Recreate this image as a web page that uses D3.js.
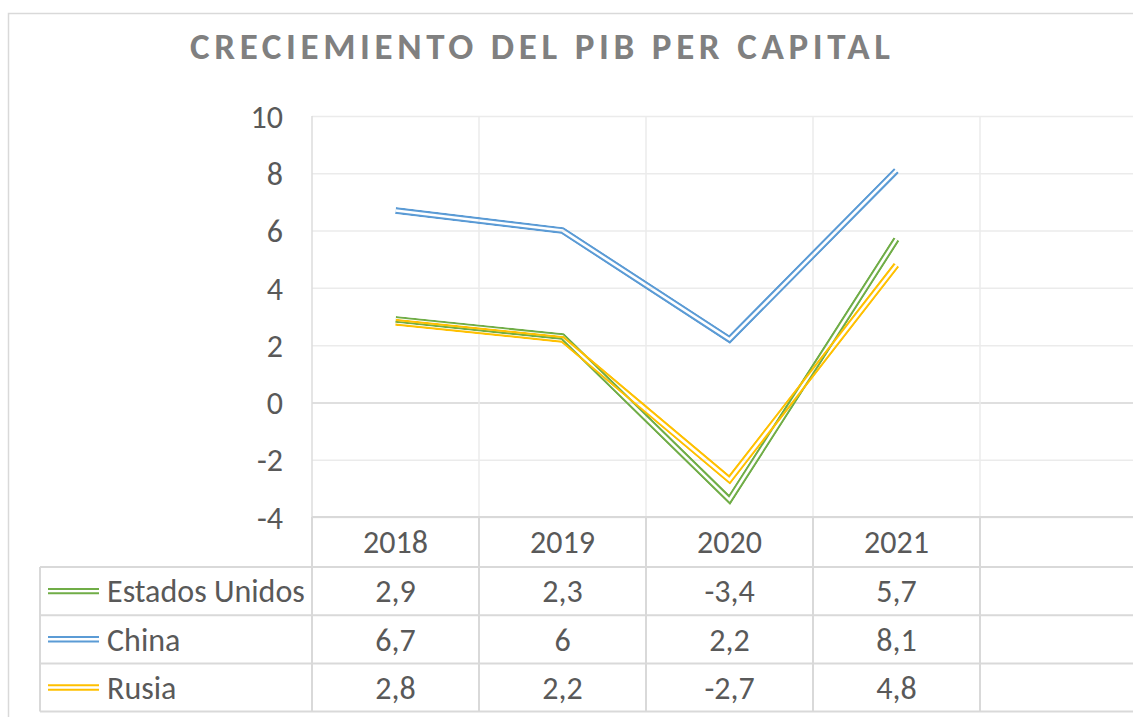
<!DOCTYPE html>
<html>

<head>
    <meta charset="utf-8">
    <style>
        body {
            margin: 0;
            background: #fff;
        }

        svg text {
            font-family: Carlito, Calibri, "Open Sans", sans-serif;
            fill: #595959;
        }

        .title {
            font-weight: bold;
            font-size: 37px;
            fill: #808080;
        }

        .tick text {
            font-size: 32px;
        }

        .cell {
            font-size: 32px;
            text-anchor: middle;
        }
    </style>
    <script src="https://d3js.org/d3.v7.min.js"></script>
    <title>Crecimiento del PIB per capital</title>
</head>

<body>
    <svg id="chart" width="1133" height="717"></svg>
    <script>
        // data
        var years = ["2018", "2019", "2020", "2021"];
        var seriesNames = ["Estados Unidos", "China", "Rusia"];
        var estadosUnidos = [2.9, 2.3, -3.4, 5.7];
        var china = [6.7, 6, 2.2, 8.1];
        var rusia = [2.8, 2.2, -2.7, 4.8];
        var yTicks = [-4, -2, 0, 2, 4, 6, 8, 10];
        var colors = ["#70AD47", "#5B9BD5", "#FFC000"];

        var seriesValues = [estadosUnidos, china, rusia];

        var svg = d3.select("svg#chart");

        // chart frame (cut off on the right and bottom)
        svg.append("path")
            .attr("d", "M8.5,717V13.5H1133")
            .attr("fill", "none")
            .attr("stroke", "#d9d9d9")
            .attr("stroke-width", 1.5);

        svg.append("text")
            .attr("class", "title")
            .attr("x", 190)
            .attr("y", 59)
            .attr("textLength", 700)
            .attr("lengthAdjust", "spacing")
            .text("CRECIEMIENTO DEL PIB PER CAPITAL");

        // scales - one empty category on the right like the original
        var x = d3.scaleBand()
            .domain(years.concat([""]))
            .range([312, 312 + 167 * 5])
            .padding(0);
        var y = d3.scaleLinear().domain([-4, 10]).range([517, 116]);

        var bw = x.bandwidth();

        // horizontal gridlines + labels
        var yAxis = svg.append("g")
            .attr("transform", "translate(312,0)")
            .call(d3.axisLeft(y)
                .tickValues(yTicks)
                .tickSize(-(1133 - 312))
                .tickPadding(29)
                .tickFormat(function (d) { return String(d); }));
        yAxis.select(".domain").remove();
        yAxis.selectAll(".tick line")
            .attr("stroke", function (d) { return d === 0 ? "#d4d4d4" : "#ebebeb"; })
            .attr("stroke-width", 1.5);
        yAxis.selectAll(".tick text")
            .attr("fill", "#595959")
            .attr("dy", "0.35em");

        // vertical gridlines at category boundaries
        var bounds = x.domain().map(function (d) { return x(d); });
        svg.append("g").selectAll("line")
            .data(bounds)
            .enter()
            .append("line")
            .attr("x1", function (d) { return d; })
            .attr("x2", function (d) { return d; })
            .attr("y1", y(10))
            .attr("y2", y(-4))
            .attr("stroke", function (d, i) { return i === 0 ? "#dcdcdc" : "#ebebeb"; })
            .attr("stroke-width", 1.5);

        // double lines: thick stroke with the middle cut out by a mask
        var line = d3.line()
            .x(function (d, i) { return x(years[i]) + bw / 2; })
            .y(function (d) { return y(d); });

        var defs = svg.append("defs");
        seriesValues.forEach(function (vals, k) {
            var m = defs.append("mask")
                .attr("id", "dbl" + k)
                .attr("maskUnits", "userSpaceOnUse")
                .attr("x", 0).attr("y", 0)
                .attr("width", 1133).attr("height", 717);
            m.append("path").attr("d", line(vals))
                .attr("fill", "none").attr("stroke", "#fff")
                .attr("stroke-width", 7);
            m.append("path").attr("d", line(vals))
                .attr("fill", "none").attr("stroke", "#000")
                .attr("stroke-width", 2.6);

            svg.append("path")
                .attr("d", line(vals))
                .attr("fill", "none")
                .attr("stroke", colors[k])
                .attr("stroke-width", 7)
                .attr("mask", "url(#dbl" + k + ")");
        });

        // data table
        var rowTop = 517, headH = 50, rowH = 48.2;
        var tbl = svg.append("g");
        var border = "#d9d9d9";

        // header row
        tbl.append("line")
            .attr("x1", 312).attr("x2", 1133)
            .attr("y1", rowTop).attr("y2", rowTop)
            .attr("stroke", border).attr("stroke-width", 2);
        tbl.selectAll(".head")
            .data(years)
            .enter()
            .append("text")
            .attr("class", "cell")
            .attr("x", function (d) { return x(d) + bw / 2; })
            .attr("y", rowTop + headH / 2)
            .attr("dy", "0.35em")
            .text(function (d) { return d; });

        // horizontal row borders
        var rowLines = [0, 1, 2, 3].map(function (i) { return rowTop + headH + i * rowH; });
        tbl.selectAll(".hrow")
            .data(rowLines)
            .enter()
            .append("line")
            .attr("x1", 40).attr("x2", 1133)
            .attr("y1", function (d) { return d; })
            .attr("y2", function (d) { return d; })
            .attr("stroke", border).attr("stroke-width", 2);

        // vertical borders
        tbl.selectAll(".vcol")
            .data(bounds)
            .enter()
            .append("line")
            .attr("x1", function (d) { return d; })
            .attr("x2", function (d) { return d; })
            .attr("y1", rowTop)
            .attr("y2", rowLines[3])
            .attr("stroke", border).attr("stroke-width", 2);
        tbl.append("line")
            .attr("x1", 40).attr("x2", 40)
            .attr("y1", rowLines[0]).attr("y2", rowLines[3])
            .attr("stroke", border).attr("stroke-width", 2);

        seriesNames.forEach(function (name, k) {
            var cy = rowLines[k] + rowH / 2;
            var row = tbl.append("g");

            // legend key - double line
            [-2.2, 2.2].forEach(function (off) {
                row.append("line")
                    .attr("x1", 48).attr("x2", 99)
                    .attr("y1", cy + off).attr("y2", cy + off)
                    .attr("stroke", colors[k])
                    .attr("stroke-width", 2);
            });

            row.append("text")
                .attr("class", "cell")
                .attr("x", 107)
                .attr("y", cy)
                .attr("dy", "0.35em")
                .style("text-anchor", "start")
                .text(name);

            row.selectAll(".val")
                .data(seriesValues[k])
                .enter()
                .append("text")
                .attr("class", "cell")
                .attr("x", function (d, i) { return x(years[i]) + bw / 2; })
                .attr("y", cy)
                .attr("dy", "0.35em")
                .text(function (d) { return String(d).replace(".", ","); });
        });
    </script>
</body>

</html>
